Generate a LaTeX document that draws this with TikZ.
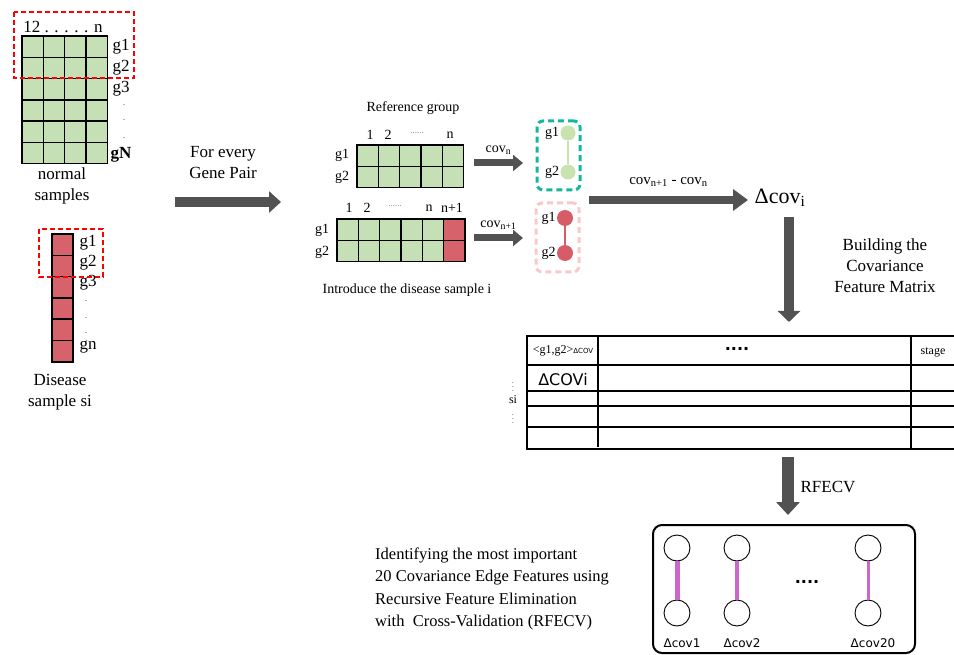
\documentclass[tikz,border=0pt]{standalone}
\usepackage{fontspec}
\setmainfont{Liberation Serif}
\newfontfamily\dejavu{DejaVu Sans}
\usepackage{tikz}
\usetikzlibrary{arrows.meta,shapes,positioning,calc}
\definecolor{cellgreen}{RGB}{197,224,180}
\definecolor{cellred}{RGB}{214,98,108}
\definecolor{arrowgray}{RGB}{82,82,82}
\definecolor{dashteal}{RGB}{20,182,160}
\definecolor{dashpink}{RGB}{250,200,200}
\definecolor{nodegreen}{RGB}{200,226,176}
\definecolor{nodered}{RGB}{214,92,104}
\definecolor{edgepink}{RGB}{204,102,204}
\tikzstyle{gcell} = [rectangle, fill=cellgreen, minimum width=21.3pt, minimum height=21.3pt, inner sep=0pt, outer sep=0pt]
\tikzstyle{rcell} = [gcell, fill=cellred]
\tikzstyle{gridline} = [draw=black, line width=1.4pt]
\tikzstyle{fatarrow} = [draw=arrowgray, line width=10pt, -{Triangle[length=12pt,width=22pt]}]
\tikzstyle{selbox} = [draw=red, line width=1.4pt, dash pattern=on 5pt off 3pt]
\tikzstyle{lbl} = [font=\fontsize{17}{21}\selectfont, inner sep=0pt]
\tikzstyle{slbl} = [font=\fontsize{14}{17}\selectfont, inner sep=0pt]
\tikzstyle{tlbl} = [font=\fontsize{12}{14}\selectfont, inner sep=0pt]
\tikzstyle{vdot} = [font=\fontsize{8}{8}\selectfont, inner sep=0pt]
\tikzstyle{gnode} = [circle, fill=nodegreen, minimum size=15pt, inner sep=0pt]
\tikzstyle{rnode} = [circle, fill=nodered, minimum size=16pt, inner sep=0pt]
\tikzstyle{wnode} = [circle, draw=black, fill=white, minimum size=26pt, inner sep=0pt, line width=0.9pt]
\tikzstyle{covlbl} = [font=\dejavu\fontsize{12}{14}\selectfont, inner sep=0pt]

\begin{document}
\begin{tikzpicture}[x=1pt, y=-1pt]
    \useasboundingbox (0,0) rectangle (954,655);

    % Normal samples matrix
    \foreach \r in {1,...,6}
        \foreach \c in {1,...,4}
            \node[gcell] (nm-\r-\c) at ({32.65+21.3*(\c-1)},{46.65+21.3*(\r-1)}) {};
    \foreach \c in {1,...,3}
        \draw[gridline] (nm-1-\c.north east) -- (nm-6-\c.south east);
    \foreach \r in {1,...,5}
        \draw[gridline] (nm-\r-1.south west) -- (nm-\r-4.south east);
    \draw[gridline] (nm-1-1.north west) rectangle (nm-6-4.south east);
    \node[lbl] (nmcols) at (63,27) {12 . . . . . n};
    \node[lbl] (nmg1) at (121,47) {g1};
    \node[lbl] (nmg2) at (121,68) {g2};
    \node[lbl] (nmg3) at (121,89) {g3};
    \foreach \y in {105,120,138}
        \node[vdot] at (124,\y) {.};
    \node[lbl, font=\fontsize{17}{21}\selectfont\bfseries] (nmgN) at (121,155) {gN};
    \node[lbl, align=center] (nmtxt) at (62,186) {normal\\samples};
    \draw[selbox] (14,12) rectangle (134,78);

    % Disease sample column
    \foreach \r in {1,...,6}
        \node[rcell] (ds-\r) at (62.5,{244.65+21.3*(\r-1)}) {};
    \foreach \r in {1,...,5}
        \draw[gridline] (ds-\r.south west) -- (ds-\r.south east);
    \draw[gridline] (ds-1.north west) rectangle (ds-6.south east);
    \node[lbl] (dsg1) at (88,243) {g1};
    \node[lbl] (dsg2) at (88,263) {g2};
    \node[lbl] (dsg3) at (88,283) {g3};
    \foreach \y in {301,318,333}
        \node[vdot] at (86,\y) {.};
    \node[lbl] (dsgn) at (88,347) {gn};
    \node[lbl, align=center] (dstxt) at (60,392) {Disease\\sample si};
    \draw[selbox] (39,229) rectangle (103,277);

    % Gene pair arrow
    \node[lbl, align=center] (pairtxt) at (223,163) {For every\\Gene Pair};
    \coordinate (pairs) at (175,202);
    \coordinate (paire) at (281,202);
    \draw[fatarrow, line width=10.5pt, -{Triangle[length=12pt,width=21pt]}] (pairs) -- (paire);

    % Reference group
    \node[slbl] (reftxt) at (413,108) {Reference group};
    \foreach \r in {1,2}
        \foreach \c in {1,...,5}
            \node[gcell] (rg-\r-\c) at ({367.65+21.3*(\c-1)},{155.65+21.3*(\r-1)}) {};
    \foreach \c in {1,...,4}
        \draw[gridline] (rg-1-\c.north east) -- (rg-2-\c.south east);
    \draw[gridline] (rg-1-1.south west) -- (rg-1-5.south east);
    \draw[gridline] (rg-1-1.north west) rectangle (rg-2-5.south east);
    \node[slbl] (rgc1) at (370,135) {1};
    \node[slbl] (rgc2) at (388,135) {2};
    \node[slbl, text=gray] (rgcd) at (417,133) {\fontsize{9}{9}\selectfont ......};
    \node[slbl] (rgcn) at (450,135) {n};
    \node[slbl] (rgg1) at (342,155) {g1};
    \node[slbl] (rgg2) at (342,177) {g2};

    % Reference group plus disease sample
    \foreach \r in {1,2}
        \foreach \c in {1,...,5}
            \node[gcell] (ig-\r-\c) at ({347.65+21.3*(\c-1)},{229.65+21.3*(\r-1)}) {};
    \foreach \r in {1,2}
        \node[rcell] (ig-\r-6) at ({347.65+21.3*5},{229.65+21.3*(\r-1)}) {};
    \foreach \c in {1,...,5}
        \draw[gridline] (ig-1-\c.north east) -- (ig-2-\c.south east);
    \draw[gridline] (ig-1-1.south west) -- (ig-1-6.south east);
    \draw[gridline] (ig-1-1.north west) rectangle (ig-2-6.south east);
    \node[slbl] (igc1) at (349,208) {1};
    \node[slbl] (igc2) at (367,208) {2};
    \node[slbl, text=gray] (igcd) at (395,206) {\fontsize{9}{9}\selectfont ......};
    \node[slbl] (igcn) at (429,208) {n};
    \node[slbl] (igcn1) at (452,208) {n+1};
    \node[slbl] (igg1) at (322,230) {g1};
    \node[slbl] (igg2) at (322,252) {g2};
    \node[slbl] (igtxt) at (407,290) {Introduce the disease sample i};

    % Covariance arrows
    \coordinate (covas) at (474,163);
    \coordinate (covae) at (523,163);
    \coordinate (covbs) at (474,238);
    \coordinate (covbe) at (523,238);
    \draw[fatarrow, line width=7pt, -{Triangle[length=10pt,width=16pt]}] (covas) -- (covae) node[midway, above=5pt, slbl] {cov\textsubscript{n}};
    \draw[fatarrow, line width=7pt, -{Triangle[length=10pt,width=16pt]}] (covbs) -- (covbe) node[midway, above=5pt, slbl] {cov\textsubscript{n+1}};

    % Gene pair graphs
    \node[rectangle, rounded corners=6pt, draw=dashteal, line width=3pt, dash pattern=on 6pt off 4pt, minimum width=43pt, minimum height=69pt] (refgraph) at (558.5,155.5) {};
    \node[gnode] (ga1) at (568,133) {};
    \node[gnode] (ga2) at (568,172) {};
    \draw[nodegreen, line width=2pt] (ga1) -- (ga2);
    \node[slbl, left=1pt of ga1] {g1};
    \node[slbl, left=1pt of ga2] {g2};

    \node[rectangle, rounded corners=6pt, draw=dashpink, line width=3pt, dash pattern=on 6pt off 4pt, minimum width=43pt, minimum height=69pt] (disgraph) at (557.5,237.5) {};
    \node[rnode] (gb1) at (565,218) {};
    \node[rnode] (gb2) at (565,253) {};
    \draw[nodered, line width=1.5pt] (gb1) -- (gb2);
    \node[slbl, left=1pt of gb1] {g1};
    \node[slbl, left=1pt of gb2] {g2};

    % Difference
    \coordinate (diffs) at (589,200);
    \coordinate (diffe) at (748,200);
    \draw[fatarrow, line width=8.5pt, -{Triangle[length=15pt,width=21pt]}] (diffs) -- (diffe) node[midway, above=9pt, slbl, font=\fontsize{15}{18}\selectfont] {cov\textsubscript{n+1} - cov\textsubscript{n}};
    \node[lbl, font=\fontsize{22}{26}\selectfont] (dcov) at (780,198) {Δcov\textsubscript{i}};

    % Building the matrix
    \coordinate (builds) at (789,217);
    \coordinate (builde) at (789,322);
    \draw[fatarrow, -{Triangle[length=11pt,width=22pt]}] (builds) -- (builde);
    \node[lbl, align=center] (buildtxt) at (885,266) {Building the\\Covariance\\Feature Matrix};

    % Covariance feature matrix
    \draw[line width=2pt] (954,336) -- (527,336) -- (527,449) -- (954,449);
    \foreach \y in {365,391,406,427}
        \draw[line width=1.5pt] (527,\y) -- (954,\y);
    \draw[line width=1.5pt] (598,336) -- (598,447);
    \draw[line width=1.5pt] (911,336) -- (911,449);
    \node[tlbl] (hpair) at (563,351) {<g1,g2>{\dejavu\fontsize{7}{8}\selectfont ΔCOV}};
    \node[tlbl, font=\dejavu\bfseries\fontsize{16}{18}\selectfont] (hdots) at (737,349) {....};
    \node[tlbl] (hstage) at (933,352) {stage};
    \node[tlbl, font=\dejavu\fontsize{16}{18}\selectfont] (dcovi) at (563,380) {ΔCOVi};
    \node[tlbl] (rowsi) at (513,400) {si};
    \node[tlbl, font=\fontsize{7}{8}\selectfont] (siup) at (513,384) {$\vdots$};
    \node[tlbl, font=\fontsize{7}{8}\selectfont] (sidown) at (513,416) {$\vdots$};

    % RFECV
    \coordinate (rfes) at (788,457);
    \coordinate (rfee) at (788,515);
    \draw[fatarrow, line width=12pt, -{Triangle[length=13pt,width=23pt]}] (rfes) -- (rfee);
    \node[lbl] (rfetxt) at (828,487) {RFECV};

    % Selected features
    \node[lbl, anchor=west, align=left, font=\fontsize{16.5}{22.5}\selectfont] (seltxt) at (375,589) {Identifying the most important\\20 Covariance Edge Features using\\Recursive Feature Elimination\\with~ Cross-Validation (RFECV)};
    \node[rectangle, rounded corners=9pt, draw=black, line width=2pt, minimum width=262pt, minimum height=128pt] (featbox) at (784,589) {};
    \foreach \x/\w/\t [count=\i] in {677/5pt/1, 737/3.8pt/2, 868/3pt/20} {
        \node[wnode] (fa\i) at (\x,548) {};
        \node[wnode] (fb\i) at (\x,613) {};
        \draw[edgepink, line width=\w] (fa\i) -- (fb\i);
        \node[covlbl] (fl\i) at ({\x+5},643) {Δcov\t};
    }
    \node[covlbl, font=\dejavu\bfseries\fontsize{16}{18}\selectfont] (fdots) at (807,582) {....};
\end{tikzpicture}
\end{document}
